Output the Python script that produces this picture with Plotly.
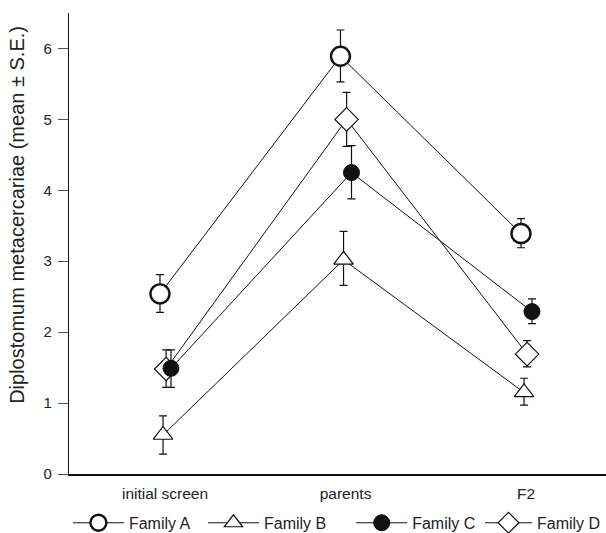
import plotly.graph_objects as go

categories = ["initial screen", "parents", "F2"]
families = ["Family A", "Family B", "Family C", "Family D"]

mean_a = [2.54, 5.89, 3.39]
err_hi_a = [0.27, 0.37, 0.21]
err_lo_a = [0.26, 0.36, 0.20]

mean_b = [0.55, 3.02, 1.15]
err_hi_b = [0.27, 0.40, 0.20]
err_lo_b = [0.27, 0.36, 0.18]

mean_c = [1.49, 4.25, 2.29]
err_hi_c = [0.26, 0.38, 0.18]
err_lo_c = [0.27, 0.37, 0.17]

mean_d = [1.48, 5.00, 1.69]
err_hi_d = [0.27, 0.38, 0.19]
err_lo_d = [0.26, 0.38, 0.18]

dodge = {"Family A": -0.028, "Family B": -0.011, "Family C": 0.033, "Family D": 0.006}

# drawing order: D under C; each family gets its own legend box
series = [
    ("Family A", "legend", mean_a, err_hi_a, err_lo_a, dict(symbol="circle", size=19, color="white", line=dict(color="#111", width=2.4))),
    ("Family B", "legend2", mean_b, err_hi_b, err_lo_b, dict(symbol="triangle-up", size=17, color="white", line=dict(color="#111", width=1.2))),
    ("Family D", "legend4", mean_d, err_hi_d, err_lo_d, dict(symbol="diamond", size=18, color="white", line=dict(color="#111", width=1.2))),
    ("Family C", "legend3", mean_c, err_hi_c, err_lo_c, dict(symbol="circle", size=16, color="#111", line=dict(color="#111", width=1))),
]

fig = go.Figure()
for name, leg, m, eh, el, mk in series:
    xs = [i + 1 + dodge[name] for i in range(len(categories))]
    fig.add_trace(go.Scatter(
        x=xs, y=m, name=name, mode="lines+markers", legend=leg,
        line=dict(color="#111", width=1),
        marker=mk,
        error_y=dict(type="data", symmetric=False, array=eh, arrayminus=el,
                     color="#111", thickness=1.2, width=4),
    ))

def leg(x, anchor="left", iw=51):
    return dict(orientation="h", x=x, xanchor=anchor, y=-0.106, yanchor="middle",
                font=dict(size=16), itemwidth=iw, bgcolor="rgba(0,0,0,0)")

fig.update_layout(
    width=606, height=533,
    margin=dict(l=69, r=0, t=13, b=59, autoexpand=False),
    paper_bgcolor="white", plot_bgcolor="white",
    font=dict(family="Liberation Sans, Arial, sans-serif", size=15, color="#222"),
    showlegend=True,
    legend=leg(-0.002), legend2=leg(0.2495), legend3=leg(0.5255),
    legend4=leg(1.0, anchor="right", iw=47),
    xaxis=dict(range=[0.468, 3.443], tickmode="array", tickvals=[1, 2, 3], ticktext=categories,
               showgrid=False, zeroline=False, showline=True, linecolor="#111", linewidth=2,
               ticks="", tickfont=dict(size=15.5), ticklabelstandoff=4),
    yaxis=dict(range=[0, 6.5], tickmode="array", tickvals=[0, 1, 2, 3, 4, 5, 6],
               showgrid=False, zeroline=False, showline=True, linecolor="#111", linewidth=1.3,
               ticks="outside", ticklen=10, tickcolor="#555", tickwidth=1, tickfont=dict(size=15),
               ticklabelstandoff=3),
    annotations=[dict(text="Diplostomum metacercariae (mean ± S.E.)", textangle=-90,
                      xref="paper", yref="paper", x=-0.097, y=0.562, xanchor="center", yanchor="middle",
                      showarrow=False, font=dict(size=20, color="#222"))],
)

fig.write_html("out.html", config={"displayModeBar": False},
               post_script="document.body.style.margin='0px';")
